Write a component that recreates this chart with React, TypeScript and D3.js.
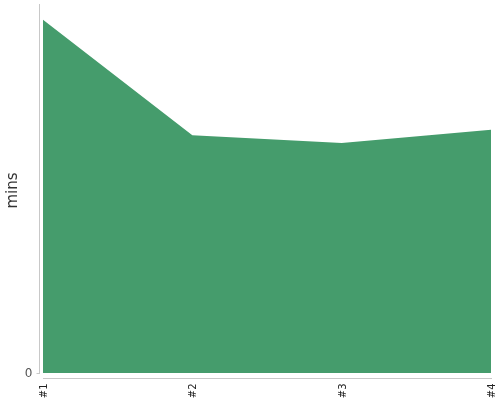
import * as d3 from 'd3'
import { useEffect, useRef } from 'react'

const categories = ['#1', '#2', '#3', '#4']
const minutes = [95.7, 64.4, 62.3, 65.9]
const yTicks = [0]

export default function App() {
    const svgRef = useRef<SVGSVGElement>(null)
    const width = 500
    const height = 400

    useEffect(() => {
        if (!svgRef.current) return
        const svg = d3.select(svgRef.current)
        svg.selectAll('*').remove()

        const margin = { top: 4, right: 9, bottom: 27, left: 43 }
        const innerBottom = height - margin.bottom

        const x = d3
            .scalePoint<string>()
            .domain(categories)
            .range([margin.left, width - margin.right])

        const y = d3
            .scaleLinear()
            .domain([0, 100])
            .range([innerBottom, margin.top])

        const data = categories.map((c, i) => ({ name: c, value: minutes[i] }))

        const area = d3
            .area<{ name: string; value: number }>()
            .x((d) => x(d.name) as number)
            .y0(y(0))
            .y1((d) => y(d.value))

        svg.append('path')
            .datum(data)
            .attr('d', area)
            .attr('fill', '#459c6c')

        // y axis
        const yAxis = svg
            .append('g')
            .attr('transform', `translate(${margin.left - 3.5},0)`)
            .call(d3.axisLeft(y).tickValues(yTicks).tickSize(3).tickPadding(4))
        yAxis.select('.domain')
            .attr('d', `M0,${margin.top}V${innerBottom + 1}`)
            .attr('stroke', '#c8c8c8')
        yAxis.selectAll('.tick line').attr('stroke', '#c8c8c8')
        yAxis.selectAll('.tick text')
            .attr('fill', '#555')
            .style('font-family', 'DejaVu Sans, sans-serif')
            .style('font-size', '12px')

        // x axis
        const xAxis = svg
            .append('g')
            .attr('transform', `translate(0,${innerBottom + 5.5})`)
            .call(d3.axisBottom(x).tickSize(0).tickSizeOuter(0).tickPadding(0))
        xAxis.select('.domain')
            .attr('d', `M${margin.left},0H${width - margin.right + 1}`)
            .attr('stroke', '#c8c8c8')
        xAxis.selectAll('.tick text')
            .attr('transform', 'rotate(-90)')
            .attr('text-anchor', 'end')
            .attr('x', -5)
            .attr('y', 0)
            .attr('dy', '0.35em')
            .attr('fill', '#222')
            .style('font-family', 'DejaVu Sans, sans-serif')
            .style('font-size', '10px')

        svg.append('text')
            .attr('transform', `translate(17,${(margin.top + innerBottom) / 2 + 2}) rotate(-90)`)
            .attr('text-anchor', 'middle')
            .attr('fill', '#333')
            .style('font-family', 'DejaVu Sans, sans-serif')
            .style('font-size', '15px')
            .text('mins')
    }, [])

    return (
        <div style={{ position: 'fixed', top: 0, left: 0 }}>
            <svg ref={svgRef} width={width} height={height} style={{ display: 'block' }} />
        </div>
    )
}
